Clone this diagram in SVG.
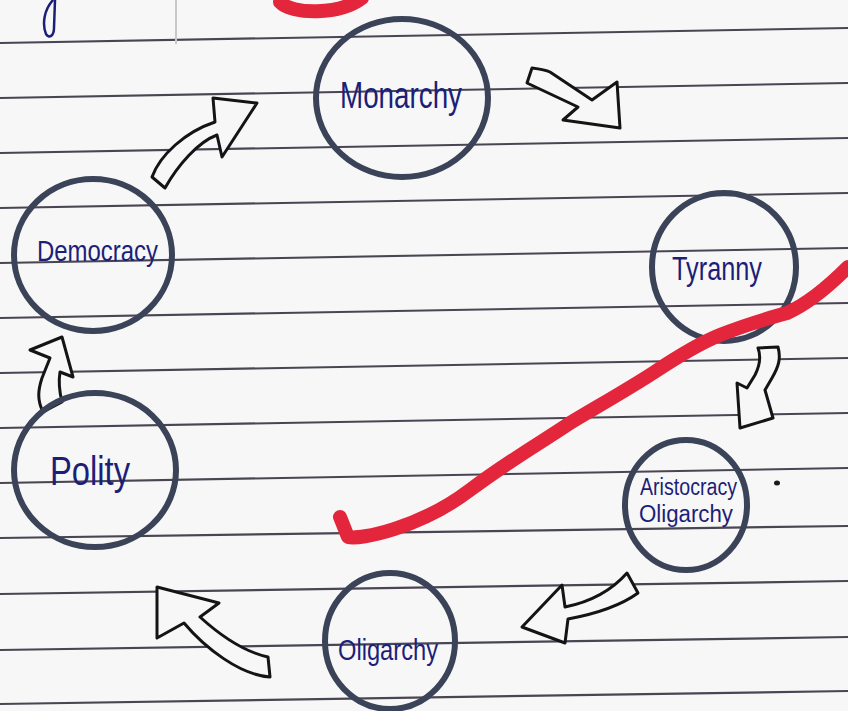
<svg xmlns="http://www.w3.org/2000/svg" width="848" height="711" viewBox="0 0 848 711">
<style>
.rule{stroke:#4a4552;stroke-width:2.2;fill:none}
.node{fill:none;stroke:#3a4357;stroke-width:6}
.lbl{fill:#1c1f78;font-family:"Liberation Sans",Arial,sans-serif}
.arrow{fill:#f7f7f7;stroke:#141414;stroke-width:3;stroke-linejoin:round}
.red{fill:none;stroke:#e3263b;stroke-linecap:round;stroke-linejoin:round}
</style>
<rect width="848" height="711" fill="#f7f7f7"/>
<g id="ruled-lines">
<line class="rule" x1="0" y1="-12" x2="848" y2="-26"/>
<line class="rule" x1="0" y1="43" x2="848" y2="28"/>
<line class="rule" x1="0" y1="98" x2="848" y2="83"/>
<line class="rule" x1="0" y1="153" x2="848" y2="138"/>
<line class="rule" x1="0" y1="208" x2="848" y2="193"/>
<line class="rule" x1="0" y1="263" x2="848" y2="248"/>
<line class="rule" x1="0" y1="318" x2="848" y2="303"/>
<line class="rule" x1="0" y1="373" x2="848" y2="358"/>
<line class="rule" x1="0" y1="428" x2="848" y2="413"/>
<line class="rule" x1="0" y1="483" x2="848" y2="468"/>
<line class="rule" x1="0" y1="538" x2="848" y2="526"/>
<line class="rule" x1="0" y1="594" x2="848" y2="581"/>
<line class="rule" x1="0" y1="650" x2="848" y2="637"/>
<line class="rule" x1="0" y1="704" x2="848" y2="691"/>
<line x1="176" y1="0" x2="176" y2="44" stroke="#c8c8c8" stroke-width="2"/>
</g>
<path d="M53 0 C44 10 42 24 46 34 C49 39 54 36 54 28 L55 0" fill="none" stroke="#1c1f78" stroke-width="2.5"/>
<path class="red" stroke-width="14" d="M280 2 C292 15 340 15 362 -2"/>
<g id="connectors">
<path class="arrow" d="M532 68 C540 69 546 70 550 72 L592 100 L617 82 L620 128 L563 120 L578 107 L527 83 Z"/>
<path class="arrow" d="M758 348 L778 347 C781 358 779 366 772 378 L765 390 L773 418 L740 428 L737 383 L747 388 L755 375 C760 365 761 356 758 348 Z"/>
<path class="arrow" d="M627 573 L638 593 C620 606 595 614 568 619 L565 643 L522 627 L562 585 L565 607 C590 602 612 590 627 573 Z"/>
<path class="arrow" d="M157 587 L219 603 L200 617 C222 637 245 652 268 657 L270 677 C240 675 205 648 184 623 L157 638 Z"/>
<path class="arrow" d="M62 337 L73 377 L60 372 C58 384 60 394 62 402 L43 412 C37 400 38 390 42 378 L50 358 L30 350 Z"/>
<path class="arrow" d="M152 177 C160 155 185 132 215 122 L213 98 L257 103 L222 157 L217 135 C198 142 178 165 165 188 Z"/>
</g>
<g id="monarchy">
<ellipse class="node" cx="402" cy="98" rx="86" ry="79"/>
<text class="lbl" x="340" y="108" font-size="36" textLength="122" lengthAdjust="spacingAndGlyphs">Monarchy</text>
</g>
<g id="tyranny">
<ellipse class="node" cx="724" cy="267" rx="72" ry="74"/>
<text class="lbl" x="672" y="280" font-size="34" textLength="90" lengthAdjust="spacingAndGlyphs">Tyranny</text>
</g>
<g id="aristocracy-oligarchy">
<ellipse class="node" cx="686" cy="505" rx="61" ry="65"/>
<text class="lbl" x="640" y="495" font-size="23" textLength="97" lengthAdjust="spacingAndGlyphs">Aristocracy</text>
<text class="lbl" x="639" y="522" font-size="23" textLength="94" lengthAdjust="spacingAndGlyphs">Oligarchy</text>
</g>
<g id="oligarchy">
<ellipse class="node" cx="390" cy="641" rx="65" ry="68"/>
<text class="lbl" x="338" y="660" font-size="29" textLength="100" lengthAdjust="spacingAndGlyphs">Oligarchy</text>
</g>
<g id="polity">
<ellipse class="node" cx="95" cy="470" rx="81" ry="77"/>
<text class="lbl" x="50" y="485" font-size="40" textLength="80" lengthAdjust="spacingAndGlyphs">Polity</text>
</g>
<g id="democracy">
<ellipse class="node" cx="93" cy="255" rx="79" ry="76"/>
<text class="lbl" x="37" y="261" font-size="30" textLength="121" lengthAdjust="spacingAndGlyphs">Democracy</text>
</g>
<ellipse cx="777" cy="483" rx="3" ry="2.5" fill="#1a1a1a"/>
<path class="red" stroke-width="14" d="M340 517 L348 537 C360 540 420 528 470 490 C510 460 545 440 570 423 C600 405 630 388 653 373 C680 355 700 343 720 335 C750 323 770 318 787 313 C810 303 830 285 848 267"/>
</svg>
